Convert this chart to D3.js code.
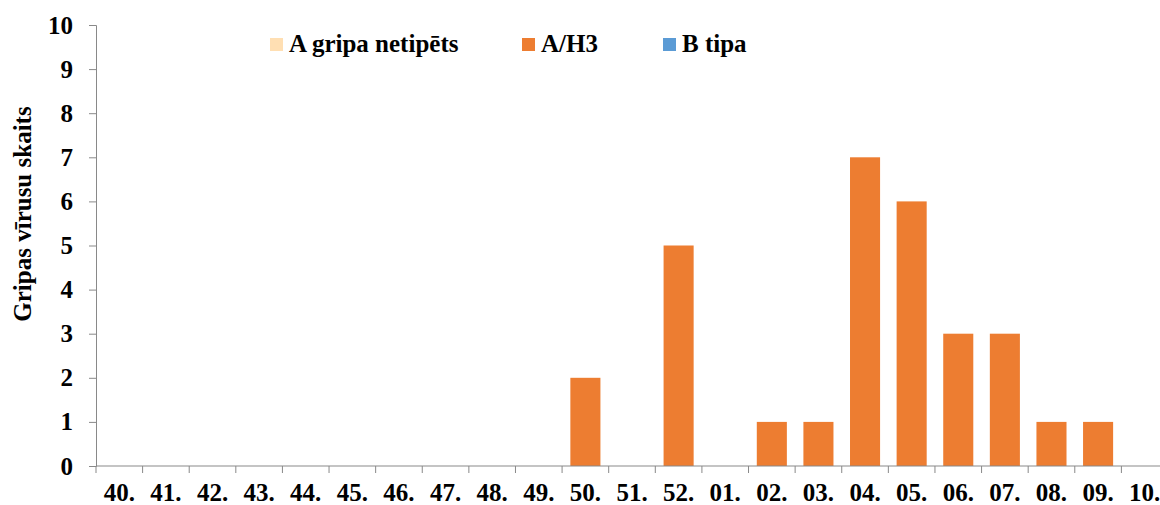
<!DOCTYPE html>
<html><head><meta charset="utf-8">
<script src="https://cdn.jsdelivr.net/npm/d3@7"></script>
<style>body{margin:0;background:#fff;}svg{display:block;}text{font-family:"Liberation Serif","DejaVu Serif",serif;font-weight:bold;}</style>
</head><body><svg id="c" width="1160" height="505"></svg>
<script>
const weeks = ["40.","41.","42.","43.","44.","45.","46.","47.","48.","49.","50.","51.","52.","01.","02.","03.","04.","05.","06.","07.","08.","09.","10."];
const aNetipets = [0,0,0,0,0,0,0,0,0,0,0,0,0,0,0,0,0,0,0,0,0,0,0];
const aH3 =       [0,0,0,0,0,0,0,0,0,0,2,0,5,0,1,1,7,6,3,3,1,1,0];
const bTipa =     [0,0,0,0,0,0,0,0,0,0,0,0,0,0,0,0,0,0,0,0,0,0,0];
const seriesNames = ["A gripa netipēts","A/H3","B tipa"];
const yTicks = [0,1,2,3,4,5,6,7,8,9,10];
const colors = ["#FFDFB3","#ED7D31","#5B9BD5"];

const svg = d3.select("#c");
const FS = 25;
const FF = "Liberation Serif";
const m = {l:96, t:25, r:1168, b:466};
const x = d3.scaleBand().domain(weeks).range([m.l, m.r]).paddingInner(0.355).paddingOuter(0.355/2);
const xb = d3.scaleBand().domain(weeks).range([m.l, m.r]);
const y = d3.scaleLinear().domain([0,10]).range([m.b, m.t]);

const rows = weeks.map((w,i)=>({w, s0:aNetipets[i], s1:aH3[i], s2:bTipa[i]}));
const stack = d3.stack().keys(["s0","s1","s2"])(rows);

svg.append("g").selectAll("g").data(stack).join("g").attr("fill",(d,i)=>colors[i])
  .selectAll("rect").data(d=>d.filter(p=>p[1]-p[0]>0)).join("rect")
  .attr("x",d=>x(d.data.w)).attr("width",x.bandwidth())
  .attr("y",d=>y(d[1])).attr("height",d=>y(d[0])-y(d[1]));

// y axis
const ya = svg.append("g").attr("transform",`translate(${m.l},0)`)
  .call(d3.axisLeft(y).tickValues(yTicks).tickSize(7).tickPadding(16).tickFormat(d3.format("d")));
ya.attr("font-family",FF).attr("font-size",FS);
ya.select(".domain").attr("stroke","#898989");
ya.selectAll(".tick line").attr("stroke","#898989");
ya.selectAll("text").attr("font-family",FF).attr("font-weight","bold").attr("font-size",FS).attr("fill","#000");

// x axis
const xa = svg.append("g").attr("transform",`translate(0,${m.b})`)
  .call(d3.axisBottom(xb).tickSize(0).tickPadding(17));
xa.attr("font-family",FF).attr("font-size",FS);
xa.select(".domain").attr("stroke","#898989").attr("d",`M${m.l},0H${m.r}`);
xa.selectAll("text").attr("font-family",FF).attr("font-weight","bold").attr("font-size",FS).attr("fill","#000");
svg.append("g").selectAll("line").data(weeks.concat(["end"])).join("line")
  .attr("x1",(d,i)=>m.l+i*xb.step()).attr("x2",(d,i)=>m.l+i*xb.step())
  .attr("y1",m.b).attr("y2",m.b+7).attr("stroke","#898989");

// y title
svg.append("text").attr("transform","translate(31,214) rotate(-90)").attr("text-anchor","middle")
  .attr("font-family",FF).attr("font-weight","bold").attr("font-size",FS).text("Gripas vīrusu skaits");

// legend
const lx = [270,522,663];
const lg = svg.append("g").selectAll("g").data(seriesNames).join("g")
  .attr("transform",(d,i)=>`translate(${lx[i]},38)`);
lg.append("rect").attr("width",13).attr("height",13).attr("fill",(d,i)=>colors[i]);
lg.append("text").attr("x",19).attr("y",14).attr("font-family",FF).attr("font-weight","bold").attr("font-size",FS).text(d=>d);
</script></body></html>
